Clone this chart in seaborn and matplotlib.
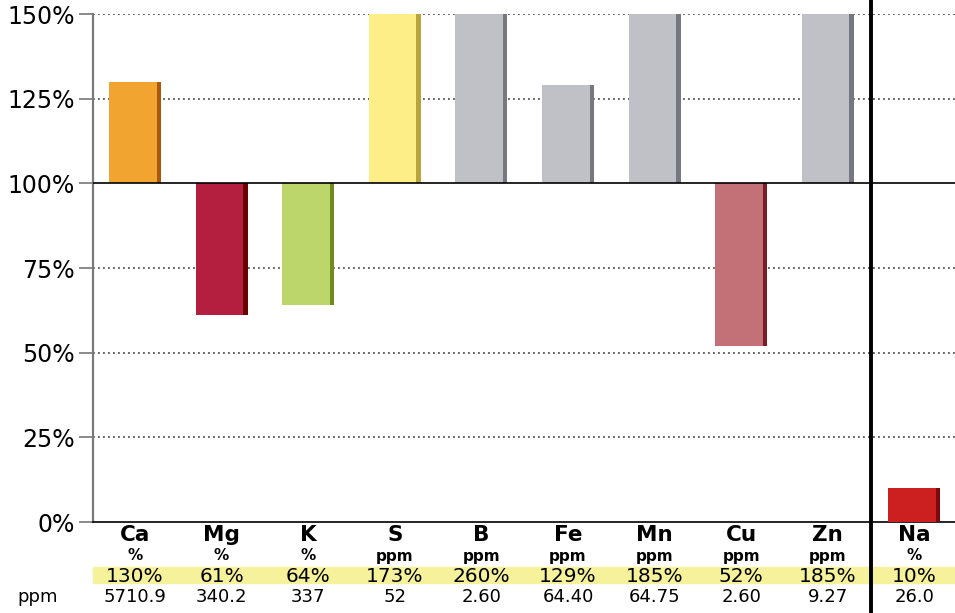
import numpy as np
import seaborn as sns
import matplotlib.pyplot as plt
from matplotlib.patches import Rectangle
from matplotlib.lines import Line2D
import matplotlib.transforms as mtransforms

elements = ['Ca', 'Mg', 'K', 'S', 'B', 'Fe', 'Mn', 'Cu', 'Zn', 'Na']
units = ['%', '%', '%', 'ppm', 'ppm', 'ppm', 'ppm', 'ppm', 'ppm', '%']
pct = [130, 61, 64, 173, 260, 129, 185, 52, 185, 10]
ppm_labels = ['5710.9', '340.2', '337', '52', '2.60', '64.40', '64.75', '2.60', '9.27', '26.0']
bases = [100, 100, 100, 100, 100, 100, 100, 100, 100, 0]
colors = ['#F2A430', '#B41F40', '#BDD66B', '#FEEE88', '#BFC1C7', '#BFC1C7',
          '#BFC1C7', '#C47077', '#BFC1C7', '#CC1F1F']
shades = ['#A8590A', '#6A0000', '#6F8B1D', '#B9A43C', '#77787F', '#77787F',
          '#77787F', '#7A1E25', '#77787F', '#7D0A0A']
yticks = [0, 25, 50, 75, 100, 125, 150]

sns.set_style('white')
plt.rcParams['font.family'] = ['DejaVu Sans']
plt.rcParams['text.color'] = 'black'
plt.rcParams['ytick.color'] = 'black'

fig = plt.figure(figsize=(9.55, 6.13), dpi=100)
ax = fig.add_axes([93 / 955, 91 / 613, 862 / 955, 508 / 613])

x = np.arange(len(elements))
tops = np.minimum(pct, 150)
heights = tops - np.array(bases)

# dark side strip, then the face of the bar over it
ax.bar(x - 0.3, heights, bottom=bases, width=0.6, align='edge', color=shades,
       linewidth=0, zorder=3)
ax.bar(x - 0.3, heights, bottom=bases, width=0.55, align='edge', color=colors,
       linewidth=0, zorder=4)

for v in [25, 50, 75, 125, 150]:
    ax.axhline(v, color='#4a4a4a', lw=1.2, ls=(0, (1.1, 1.9)), zorder=1)
ax.axhline(100, color='black', lw=1.2, zorder=5)

ax.set_xlim(-0.485, 9.47)
ax.set_ylim(0, 150)
ax.set_yticks(yticks)
ax.set_yticklabels([f'{v}%' for v in yticks], fontsize=17, color='black')
ax.set_xticks([])
ax.tick_params(axis='y', length=10, width=1.2, color='#777777', pad=3, left=True)
sns.despine(ax=ax, top=True, right=True)
ax.spines['left'].set_color('#7a7a7a')
ax.spines['left'].set_linewidth(1.6)
ax.spines['bottom'].set_color('black')
ax.spines['bottom'].set_linewidth(1.2)

# table under the plot
trans = mtransforms.blended_transform_factory(ax.transData, fig.transFigure)
trans_ax = mtransforms.blended_transform_factory(ax.transAxes, fig.transFigure)
ax.add_patch(Rectangle((0, 1 - 583 / 613), 1, 16 / 613, transform=trans_ax,
                       color='#F5F29B', clip_on=False, zorder=0))
for i in range(len(elements)):
    ax.text(i, 1 - 535 / 613, elements[i], transform=trans, ha='center', va='center',
            fontsize=15.5, fontweight='bold', color='black')
    ax.text(i, 1 - 556 / 613, units[i], transform=trans, ha='center', va='center',
            fontsize=11, fontweight='bold', color='black')
    ax.text(i, 1 - 576 / 613, f'{pct[i]}%', transform=trans, ha='center', va='center',
            fontsize=14.5, color='black')
    ax.text(i, 1 - 597 / 613, ppm_labels[i], transform=trans, ha='center', va='center',
            fontsize=13, color='black')
fig.text(38 / 955, 1 - 597 / 613, 'ppm', ha='center', va='center', fontsize=13,
         color='black')

ax.add_line(Line2D([8.5, 8.5], [0, 1], transform=trans, color='black', lw=2.8,
                   clip_on=False, zorder=6))

fig.savefig('out.png', dpi=100)
